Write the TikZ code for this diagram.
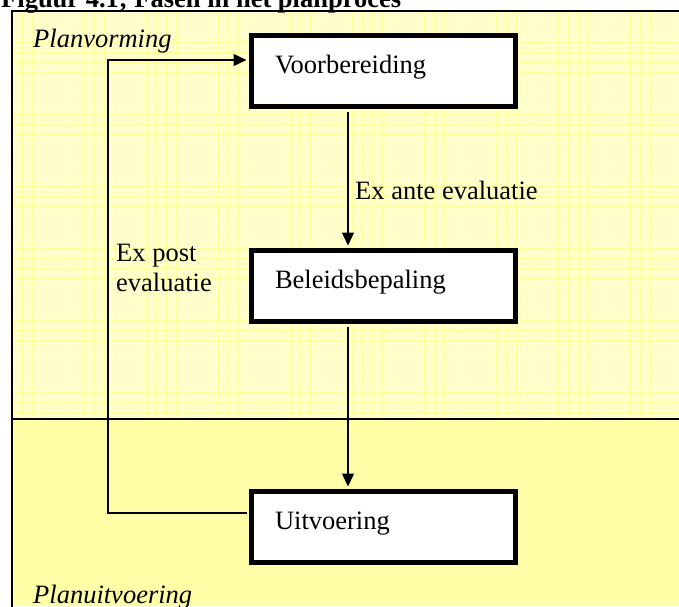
\documentclass[tikz,border=0pt]{standalone}
\usepackage{fontspec}
\setmainfont{Liberation Serif}
\usetikzlibrary{arrows.meta}
\definecolor{planbg}{HTML}{FFFFCC}
\definecolor{planlines}{HTML}{FFFF9E}
\definecolor{uitbg}{HTML}{FFFFA8}
\newcommand{\phasefont}{\fontsize{26.5}{30}\selectfont}
\tikzset{
  phase/.style={draw=black, line width=5pt, fill=white,
    minimum width=264pt, minimum height=71pt,
    text width=217pt, inner xsep=23.5pt, inner ysep=0pt, align=left,
    text height=10pt, text depth=6pt, font=\phasefont},
  flow/.style={line width=1.5pt, -{Triangle[length=13pt,width=12pt]},
    shorten <=2.5pt, shorten >=2.5pt},
  plaintext/.style={inner sep=0pt, anchor=base west, font=\phasefont},
  zonetitle/.style={plaintext, font=\phasefont\itshape},
}
\begin{document}
\begin{tikzpicture}[x=1pt,y=-1pt]
  \useasboundingbox (0,0) rectangle (679,606);
  \clip (0,0) rectangle (679,606);

  % upper zone: planvorming, light yellow with a faint grid
  \fill[planbg] (12,11) rectangle (679,419);
  \foreach \i in {1,...,65} {
    \draw[planlines, line width=0.7pt] (12+\i*10.3,11) -- (12+\i*10.3,419);
  }
  \foreach \j in {1,...,39} {
    \draw[planlines, line width=0.7pt] (12,11+\j*10.3) -- (679,11+\j*10.3);
  }
  % lower zone: planuitvoering
  \fill[uitbg] (12,419) rectangle (679,606);

  % frame and zone divider
  \draw[line width=1.5pt] (12,11) rectangle (700,640);
  \draw[line width=2pt] (12,419) -- (679,419);

  % caption
  \node[plaintext, font=\phasefont\bfseries] (caption) at (1,7)
    {Figuur 4.1; Fasen in het planproces};

  % zone names
  \node[zonetitle] (zoneA) at (33,47) {Planvorming};
  \node[zonetitle] (zoneB) at (33,603) {Planuitvoering};

  % phases
  \node[phase] (voor) at (383.5,71)  {Voorbereiding};
  \node[phase] (bel)  at (383.5,286) {Beleidsbepaling};
  \node[phase] (uit)  at (383.5,527) {Uitvoering};

  % routing helpers
  \coordinate (spine) at (348,0);
  \coordinate (loop) at (108,0);
  \coordinate (fbout) at ([yshift=14pt]uit.west);
  \coordinate (fbin) at ([yshift=11pt]voor.west);

  % main flow
  \draw[flow] (voor.south -| spine) -- (bel.north -| spine);
  \draw[flow] (bel.south -| spine) -- (uit.north -| spine);

  % feedback loop
  \draw[flow] (fbout) -- (fbout -| loop) -- (fbin -| loop) -- (fbin);

  % evaluation labels (base anchor sits on the last line)
  \node[plaintext] (exante) at (355,199) {Ex ante evaluatie};
  \node[plaintext, align=left] (expost) at (116,291) {Ex post\\evaluatie};
\end{tikzpicture}
\end{document}
